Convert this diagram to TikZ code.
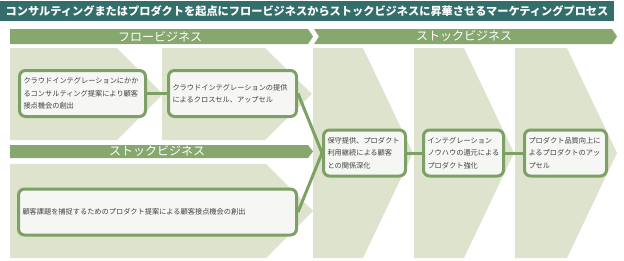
\documentclass[tikz,border=0pt]{standalone}
\usepackage{fontspec}
\setmainfont{Noto Sans CJK JP}
\usepackage{tikz}
\definecolor{titleteal}{HTML}{336E6B}
\definecolor{bargreen}{HTML}{86A86E}
\definecolor{palegreen}{HTML}{DDE3CC}
\definecolor{edgegreen}{HTML}{7DA165}
\definecolor{boxfill}{HTML}{F6F7F4}
\definecolor{boxtext}{HTML}{404040}
\tikzset{
  procbox/.style={draw=edgegreen, line width=3pt, fill=boxfill, rounded corners=6pt,
    inner xsep=4pt, minimum height=46pt, text width=#1, align=left, text=boxtext,
    font=\fontsize{7.2}{12.4}\selectfont},
  barlabel/.style={text=white, font=\fontsize{12}{12}\selectfont},
  link/.style={draw=edgegreen, line width=3pt},
}

\begin{document}
\begin{tikzpicture}[x=1pt, y=-1pt]
\useasboundingbox (0,0) rectangle (624,260);
% title bar
\fill[titleteal] (0,1) rectangle (614,21);
\node[text=white, font=\bfseries\fontsize{11.2}{12}\selectfont] (title) at (307,11)
  {コンサルティングまたはプロダクトを起点にフロービジネスからストックビジネスに昇華させるマーケティングプロセス};
% pale chevrons
\fill[palegreen] (10,48) -- (117,48) -- (163,94) -- (117,140) -- (10,140) -- cycle;
\fill[palegreen] (162,48) -- (265,48) -- (312,94) -- (265,140) -- (162,140) -- cycle;
\fill[palegreen] (10,164) -- (266,164) -- (313,211) -- (266,258) -- (10,258) -- cycle;
\fill[palegreen] (313,48) -- (363,48) -- (413,153) -- (363,258) -- (313,258) -- cycle;
\fill[palegreen] (414,48) -- (464,48) -- (514,153) -- (464,258) -- (414,258) -- cycle;
\fill[palegreen] (515,48) -- (567,48) -- (617,153) -- (567,258) -- (515,258) -- cycle;
% green arrow bars
\fill[bargreen] (10,29) -- (308,29) -- (313,36.5) -- (308,44) -- (10,44) -- cycle;
\fill[bargreen] (314,29) -- (612,29) -- (617,36.5) -- (612,44) -- (314,44) -- (319,36.5) -- cycle;
\fill[bargreen] (10,145) -- (308,145) -- (313,151.5) -- (308,158) -- (10,158) -- cycle;
\node[barlabel] (flowlbl) at (160,36.5) {フロービジネス};
\node[barlabel] (stocklbl) at (464,36.5) {ストックビジネス};
\node[barlabel] (stocklbl2) at (157,151.5) {ストックビジネス};
% boxes
\node[procbox=118pt] (consult) at (82.5,93.5)
  {クラウドインテグレーションにかか\\るコンサルティング提案により顧客\\接点機会の創出};
\node[procbox=120pt] (cross) at (232.5,93.5)
  {クラウドインテグレーションの提供\\によるクロスセル、アップセル};
\node[procbox=270pt] (propose) at (157.5,212)
  {顧客課題を捕捉するためのプロダクト提案による顧客接点機会の創出};
\node[procbox=74pt] (keep) at (364.5,153)
  {保守提供、プロダクト\\利用継続による顧客\\との関係深化};
\node[procbox=72pt] (knowhow) at (463.5,153)
  {インテグレーション\\ノウハウの還元による\\プロダクト強化};
\node[procbox=74pt] (upsell) at (565.5,153)
  {プロダクト品質向上に\\よるプロダクトのアッ\\プセル};
% links
\draw[link] (consult) -- (cross);
\draw[link] (cross.east) -- (keep.west);
\draw[link] (propose.east) -- (keep.west);
\draw[link] (keep) -- (knowhow);
\draw[link] (knowhow) -- (upsell);
\end{tikzpicture}
\end{document}
